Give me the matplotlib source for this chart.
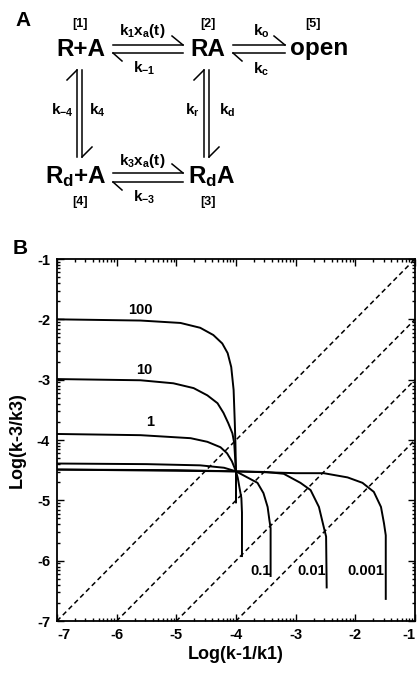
# ============================================================
# Esquema cinético (A) + curvas Log(k-3/k3) vs Log(k-1/k1) (B)
# ============================================================
import numpy as np
import matplotlib
matplotlib.use("Agg")
import matplotlib.pyplot as plt

plt.rcParams["font.family"] = ["Liberation Sans", "DejaVu Sans"]
plt.rcParams["font.weight"] = "bold"
plt.rcParams["axes.labelweight"] = "bold"
plt.rcParams["mathtext.fontset"] = "custom"
plt.rcParams["mathtext.rm"] = "Liberation Sans"
plt.rcParams["mathtext.bf"] = "Liberation Sans:bold"
plt.rcParams["mathtext.it"] = "Liberation Sans:italic"
plt.rcParams["axes.unicode_minus"] = False

# =========================
# DADOS
# =========================
curve_labels = ["100", "10", "1", "0.1", "0.01", "0.001"]

c100_x = [-7.0, -5.6, -4.93, -4.6, -4.38, -4.23, -4.14, -4.08, -4.04, -4.02, -4.01, -4.0, -4.0]
c100_y = [-2.0, -2.02, -2.06, -2.14, -2.26, -2.40, -2.56, -2.79, -3.17, -3.72, -4.05, -4.53, -5.05]

c10_x = [-7.0, -5.6, -5.05, -4.71, -4.48, -4.31, -4.21, -4.13, -4.06, -4.03, -4.0, -4.0]
c10_y = [-2.99, -3.01, -3.06, -3.14, -3.26, -3.39, -3.55, -3.72, -3.89, -4.05, -4.53, -5.0]

c1_x = [-7.0, -5.6, -4.76, -4.48, -4.26, -4.15, -4.07, -4.0, -3.97, -3.94, -3.91, -3.9, -3.9]
c1_y = [-3.90, -3.92, -3.97, -4.03, -4.12, -4.22, -4.35, -4.52, -4.63, -4.80, -4.96, -5.2, -5.94]

c01_x = [-7.0, -5.5, -4.6, -4.2, -4.0, -3.81, -3.64, -3.54, -3.47, -3.44, -3.42, -3.42]
c01_y = [-4.39, -4.40, -4.42, -4.46, -4.52, -4.62, -4.71, -4.88, -5.11, -5.33, -5.46, -6.27]

c001_x = [-7.0, -5.0, -4.0, -3.5, -3.2, -2.92, -2.75, -2.61, -2.53, -2.49, -2.48]
c001_y = [-4.49, -4.50, -4.52, -4.53, -4.56, -4.71, -4.83, -5.11, -5.44, -5.6, -6.46]

c0001_x = [-7.0, -4.0, -3.0, -2.53, -2.13, -1.88, -1.69, -1.57, -1.52, -1.49, -1.49]
c0001_y = [-4.49, -4.52, -4.55, -4.55, -4.62, -4.71, -4.86, -5.11, -5.38, -5.58, -6.65]

curves_x = [c100_x, c10_x, c1_x, c01_x, c001_x, c0001_x]
curves_y = [c100_y, c10_y, c1_y, c01_y, c001_y, c0001_y]

# posição dos rótulos das curvas (em coordenadas dos dados)
label_x = [-5.60, -5.53, -5.44, -3.59, -2.73, -1.82]
label_y = [-1.85, -2.84, -3.70, -6.17, -6.17, -6.17]

# retas diagonais tracejadas: y = x + c
diag_offsets = [0, -1, -2, -3]

ticks = [-7, -6, -5, -4, -3, -2, -1]
tick_labels = ["-7", "-6", "-5", "-4", "-3", "-2", "-1"]

# =========================
# FIGURA
# =========================
W, H = 417, 673
fig = plt.figure(figsize=(W / 100, H / 100), dpi=100)

# ---- painel A: eixo "em pixels" cobrindo a figura ----
ov = fig.add_axes([0, 0, 1, 1])
ov.set_xlim(0, W)
ov.set_ylim(H, 0)
ov.axis("off")

big = 17.5
mid = 11
small = 9

ov.text(23, 20, "A", fontsize=15, ha="center", va="center")
ov.text(20, 248, "B", fontsize=15, ha="center", va="center")

ov.text(81, 50, "R+A", fontsize=big, ha="center", va="center")
ov.text(208, 50, "RA", fontsize=big, ha="center", va="center")
ov.text(319, 49, "open", fontsize=big, ha="center", va="center")
ov.text(76, 177, r"$\mathbf{R_d}$+A", fontsize=big, ha="center", va="center")
ov.text(212, 177, r"$\mathbf{R_d}$A", fontsize=big, ha="center", va="center")

for s, (x, y) in zip(["[1]", "[2]", "[5]", "[4]", "[3]"],
                     [(80, 24), (208, 24), (313, 24), (80, 202), (208, 202)]):
    ov.text(x, y, s, fontsize=small, ha="center", va="center")

rates = [
    (r"$\mathbf{k_1x_a(t)}$", 142, 31),
    (r"$\mathbf{k_{-1}}$", 144, 68),
    (r"$\mathbf{k_o}$", 261, 31),
    (r"$\mathbf{k_c}$", 261, 69),
    (r"$\mathbf{k_{-4}}$", 62, 110),
    (r"$\mathbf{k_4}$", 97, 110),
    (r"$\mathbf{k_r}$", 192, 110),
    (r"$\mathbf{k_d}$", 227, 110),
    (r"$\mathbf{k_3x_a(t)}$", 142, 161),
    (r"$\mathbf{k_{-3}}$", 144, 197),
]
for s, x, y in rates:
    ov.text(x, y, s, fontsize=mid, ha="center", va="center")

alw = 1.1
# setas horizontais (meia-ponta)
for (x0, x1, yu, yl) in [(113, 183, 45, 53), (233, 285, 45, 53), (113, 183, 173, 182)]:
    ov.plot([x0, x1], [yu, yu], color="black", lw=alw)
    ov.plot([x1 - 11, x1], [yu - 9, yu], color="black", lw=alw)
    ov.plot([x0, x1], [yl, yl], color="black", lw=alw)
    ov.plot([x0, x0 + 9], [yl, yl + 8], color="black", lw=alw)
# setas verticais
for (xl, xr) in [(77, 82), (204, 209)]:
    ov.plot([xl, xl], [70, 157], color="black", lw=alw)
    ov.plot([xl - 10, xl], [80, 70], color="black", lw=alw)
    ov.plot([xr, xr], [70, 157], color="black", lw=alw)
    ov.plot([xr, xr + 10], [157, 147], color="black", lw=alw)

# ---- painel B ----
ax = fig.add_axes([57 / W, 1 - 621 / H, (415 - 57) / W, (621 - 259) / H])
ax.set_xlim(-7, -1)
ax.set_ylim(-7, -1)

xx = np.array([-7, -1])
for c in diag_offsets:
    ax.plot(xx, xx + c, color="black", lw=1.1, linestyle=(0, (3.2, 2.2)))

for cx, cy in zip(curves_x, curves_y):
    ax.plot(cx, cy, color="black", lw=1.4, solid_capstyle="butt")

for lab, lx, ly in zip(curve_labels, label_x, label_y):
    ax.text(lx, ly, lab, fontsize=10.5, fontweight="bold", ha="center", va="center")

ax.set_xticks(ticks)
ax.set_xticklabels(tick_labels, fontsize=10.5, fontweight="bold")
ax.set_yticks(ticks)
ax.set_yticklabels(tick_labels, fontsize=10.5, fontweight="bold")
# rótulos das pontas puxados para dentro, como no original
xt = ax.get_xticklabels()
xt[0].set_ha("left")
xt[-1].set_ha("right")

minor = [n + np.log10(k) for n in range(-7, -1) for k in range(2, 10)]
ax.set_xticks(minor, minor=True)
ax.set_yticks(minor, minor=True)
ax.tick_params(which="both", direction="in", top=True, right=True, width=1)
ax.tick_params(which="major", length=5, pad=5)
ax.tick_params(which="minor", length=2.5)
for sp in ax.spines.values():
    sp.set_linewidth(1.3)

ax.set_xlabel("Log(k-1/k1)", fontsize=13, fontweight="bold", labelpad=3)
ax.set_ylabel("Log(k-3/k3)", fontsize=13, fontweight="bold", labelpad=8)

fig.savefig("out.png", dpi=100)
